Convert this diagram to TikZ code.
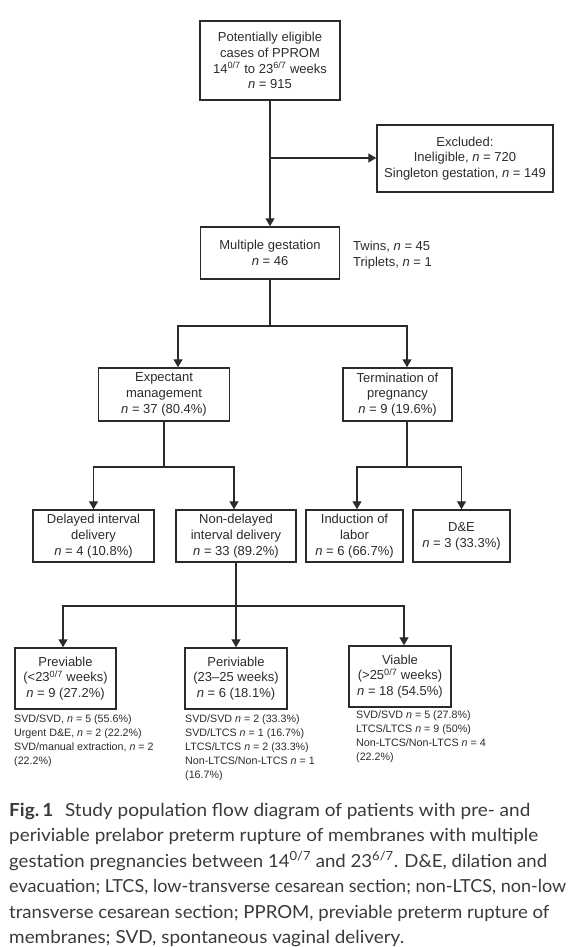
\documentclass[tikz,border=0pt]{standalone}
\usepackage{fontspec}
\setmainfont{Liberation Sans}
\newfontfamily\capfont{Lato}
\usetikzlibrary{arrows.meta}
\definecolor{ink}{HTML}{2B2B2B}
\definecolor{captxt}{HTML}{3A3A3A}
\newcommand\boxfont{\fontsize{13}{15.8}\selectfont}
\newcommand\smallfont{\fontsize{10.7}{14}\selectfont}
\newcommand\capsize{\capfont\fontsize{18}{25.5}\selectfont}
\newcommand\capfit[2]{\resizebox{#1pt}{\height}{#2}}
\begin{document}
\begin{tikzpicture}[x=1pt,y=-1pt,
  box/.style={draw=ink, line width=1.5pt, align=center, inner sep=0pt, text=ink, font=\boxfont},
  conn/.style={draw=ink, line width=1.4pt},
  arr/.style={conn, -{Triangle[width=9pt,length=8pt]}},
  side/.style={align=left, inner sep=0pt, text=ink, font=\boxfont},
  note/.style={align=left, inner sep=0pt, text=ink, font=\smallfont, anchor=north west},
  capline/.style={inner sep=0pt, text=captxt, font=\capsize, anchor=base west}]
\useasboundingbox (0,0) rectangle (577,947);

% boxes
\node[box, minimum width=140pt, minimum height=79pt] (elig) at (270,60.5)
  {Potentially eligible\\cases of PPROM\\14\textsuperscript{0/7} to 23\textsuperscript{6/7} weeks\\\textit{n} = 915};
\node[box, minimum width=176pt, minimum height=67pt] (excl) at (465,158.5)
  {Excluded:\\Ineligible, \textit{n} = 720\\Singleton gestation, \textit{n} = 149};
\node[box, minimum width=139pt, minimum height=52pt] (mg) at (270,253)
  {Multiple gestation\\\textit{n} = 46};
\node[side, anchor=west] (twins) at (353,255) {Twins, \textit{n} = 45\\Triplets, \textit{n} = 1};

\node[box, minimum width=131pt, minimum height=53pt] (exp) at (164,394.5)
  {Expectant\\management\\\textit{n} = 37 (80.4\%)};
\node[box, minimum width=109pt, minimum height=53pt] (term) at (397.5,394.5)
  {Termination of\\pregnancy\\\textit{n} = 9 (19.6\%)};

\node[box, minimum width=121pt, minimum height=52pt] (del) at (93.5,536)
  {Delayed interval\\delivery\\\textit{n} = 4 (10.8\%)};
\node[box, minimum width=120pt, minimum height=52pt] (nd) at (236,536)
  {Non-delayed\\interval delivery\\\textit{n} = 33 (89.2\%)};
\node[box, minimum width=97pt, minimum height=52pt] (ind) at (354.5,536)
  {Induction of\\labor\\\textit{n} = 6 (66.7\%)};
\node[box, minimum width=97pt, minimum height=52pt] (de) at (461.5,536)
  {D\&E\\\textit{n} = 3 (33.3\%)};

\node[box, minimum width=101pt, minimum height=61pt] (prev) at (65.5,678.5)
  {Previable\\(<23\textsuperscript{0/7} weeks)\\\textit{n} = 9 (27.2\%)};
\node[box, minimum width=102pt, minimum height=61pt] (peri) at (236,678.5)
  {Periviable\\(23--25 weeks)\\\textit{n} = 6 (18.1\%)};
\node[box, minimum width=102pt, minimum height=61pt] (via) at (400,676.5)
  {Viable\\(>25\textsuperscript{0/7} weeks)\\\textit{n} = 18 (54.5\%)};

% notes
\node[note] (n1) at (14,714.5)
  {SVD/SVD, \textit{n} = 5 (55.6\%)\\Urgent D\&E, \textit{n} = 2 (22.2\%)\\SVD/manual extraction, \textit{n} = 2\\(22.2\%)};
\node[note] (n2) at (185,714.5)
  {SVD/SVD \textit{n} = 2 (33.3\%)\\SVD/LTCS \textit{n} = 1 (16.7\%)\\LTCS/LTCS \textit{n} = 2 (33.3\%)\\Non-LTCS/Non-LTCS \textit{n} = 1\\(16.7\%)};
\node[note] (n3) at (356,711)
  {SVD/SVD \textit{n} = 5 (27.8\%)\\LTCS/LTCS \textit{n} = 9 (50\%)\\Non-LTCS/Non-LTCS \textit{n} = 4\\(22.2\%)};

% connectors
\coordinate (y326) at (0,326);
\coordinate (y467) at (0,467);
\coordinate (y606) at (0,606);
\coordinate (j1) at (270,158);

\draw[arr] (elig) -- (mg);
\draw[arr] (j1) -- (excl.west |- j1);

\draw[conn] (mg.south) -- (mg.south |- y326) coordinate (j2);
\draw[arr] (j2) -| ([xshift=14pt]exp.north);
\draw[arr] (j2) -| ([xshift=9.5pt]term.north);

\draw[conn] (exp.south) -- (exp.south |- y467) coordinate (j3);
\draw[arr] (j3) -| (del.north);
\draw[arr] (j3) -| ([xshift=-2pt]nd.north);

\coordinate (t0) at ([xshift=9.5pt]term.south);
\draw[conn] (t0) -- (t0 |- y467) coordinate (j4);
\draw[arr] (j4) -| ([xshift=2.5pt]ind.north);
\draw[arr] (j4) -| (de.north);

\draw[conn] (nd.south) -- (nd.south |- y606) coordinate (j5);
\draw[arr] (j5) -| ([xshift=-2.5pt]prev.north);
\draw[arr] (j5) -- (peri.north);
\draw[arr] (j5) -| ([xshift=4pt]via.north);

% caption
\node[capline] (c1) at (9,816) {\capfit{521}{\textbf{Fig.\,1}\hspace{11pt}Study population flow diagram of patients with pre- and}};
\node[capline] (c2) at (9,841.5) {\capfit{529}{periviable prelabor preterm rupture of membranes with multiple}};
\node[capline] (c3) at (9,867) {\capfit{538}{gestation pregnancies between 14\textsuperscript{0/7} and 23\textsuperscript{6/7}. D\&E, dilation and}};
\node[capline] (c4) at (9,892.5) {\capfit{557}{evacuation; LTCS, low-transverse cesarean section; non-LTCS, non-low}};
\node[capline] (c5) at (9,918) {\capfit{540}{transverse cesarean section; PPROM, previable preterm rupture of}};
\node[capline] (c6) at (9,943.5) {\capfit{395}{membranes; SVD, spontaneous vaginal delivery.}};
\end{tikzpicture}
\end{document}
